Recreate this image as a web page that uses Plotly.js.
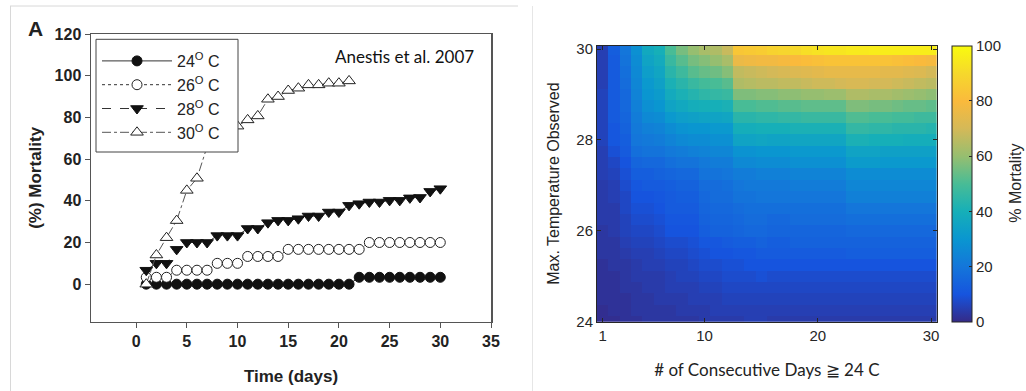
<!DOCTYPE html>
<html><head><meta charset="utf-8">
<script src="https://cdn.plot.ly/plotly-3.0.1.min.js"></script>
<style>html,body{margin:0;padding:0;background:#fff;}#chart{width:1026px;height:391px;}</style>
</head><body><div id="chart"></div>
<script>
// ---- Left panel data (Anestis et al. 2007) ----
const days = [1,2,3,4,5,6,7,8,9,10,11,12,13,14,15,16,17,18,19,20,21,22,23,24,25,26,27,28,29,30];
const days30C = [1,2,3,4,5,6,7,8,9,10,11,12,13,14,15,16,17,18,19,20,21];
const mort24C = [0,0,0,0,0,0,0,0,0,0,0,0,0,0,0,0,0,0,0,0,0,3.3,3.3,3.3,3.3,3.3,3.3,3.3,3.3,3.3];
const mort26C = [3.3,3.3,3.3,6.7,6.7,6.7,6.7,10,10,10,13.3,13.3,13.3,13.3,16.7,16.7,16.7,16.7,16.7,16.7,16.7,16.7,20,20,20,20,20,20,20,20];
const mort28C = [6.7,10,10,16.7,20,20,20,23.3,23.3,23.3,26.7,26.7,29.5,30.6,30.6,31.4,32.7,32.7,34.6,34.6,37.8,38.6,39.4,39.4,40.2,40.2,41.4,41.6,44.5,45.8];
const mort30C = [0,14,22.3,30.5,45,50.8,66,70,73,75.8,78.8,80.7,88.7,90,92.9,94,95.6,95.6,96.4,96.4,97.5];
const seriesNames = ['24<sup>O</sup> C','26<sup>O</sup> C','28<sup>O</sup> C','30<sup>O</sup> C'];
const leftXTicks = [0,5,10,15,20,25,30,35];
const leftYTicks = [0,20,40,60,80,100,120];

// ---- Right panel data (heat map) ----
const consecDays = [1,2,3,4,5,6,7,8,9,10,11,12,13,14,15,16,17,18,19,20,21,22,23,24,25,26,27,28,29,30];
const maxTemp = [24,24.25,24.5,24.75,25,25.25,25.5,25.75,26,26.25,26.5,26.75,27,27.25,27.5,27.75,28,28.25,28.5,28.75,29,29.25,29.5,29.75,30];
const mortalityGrid = [
 [1,1,2, 2,3,3, 3,3,3, 4,4,4, 4,5,5, 4,4,4,4,4,4,4, 4,4,4,4,4,4,4,4],
 [1,2,2, 3,3,3, 3,4,4, 4,5,5, 5,5,5, 5,5,5,5,5,5,5, 5,5,5,5,5,5,5,5],
 [2,2,2, 3,3,4, 4,4,5, 5,5,6, 6,6,6, 6,6,6,6,6,6,6, 6,6,6,6,6,6,6,6],
 [2,2,3, 3,4,4, 5,5,5, 6,6,7, 7,7,7, 7,7,7,7,7,7,7, 7,7,7,7,7,7,7,7],
 [2,2,3, 4,4,4, 5,6,6, 7,7,8, 8,8,9, 8,8,8,8,8,8,8, 8,8,8,8,8,8,8,8],
 [2,3,3, 4,5,5, 6,6,7, 8,8,9, 9,10,10, 10,10,10,10,10,10,10, 10,10,10,10,10,10,10,10],
 [3,3,4, 5,5,6, 7,7,8, 9,10,10, 11,11,12, 12,12,12,12,12,12,12, 13,13,13,13,13,13,13,13],
 [3,3,5, 6,6,7, 8,8,9, 11,11,12, 13,13,14, 13,13,14,14,14,14,14, 14,14,14,14,14,14,14,14],
 [3,4,6, 7,7,8, 10,10,10, 13,14,14, 15,16,16, 15,15,15,15,15,15,15, 16,16,16,16,16,16,16,16],
 [4,4,6, 8,8,9, 11,11,11, 14,15,15, 16,17,17, 16,16,17,17,17,17,17, 18,18,18,18,18,18,18,18],
 [4,4,7, 9,9,10, 12,12,12, 15,16,16, 17,18,18, 18,18,18,18,18,18,18, 20,20,20,20,20,20,20,20],
 [4,5,7, 10,10,11, 12,13,13, 16,17,17, 19,19,20, 20,20,20,20,20,20,20, 23,23,23,23,23,23,23,23],
 [4,5,8, 11,12,12, 13,14,14, 17,17,18, 20,21,21, 21,21,22,22,22,22,22, 25,25,25,25,25,25,25,25],
 [5,6,9, 13,13,14, 15,16,16, 19,19,20, 22,22,23, 23,23,24,24,24,24,24, 27,27,27,27,27,27,27,27],
 [5,7,10, 15,16,16, 18,19,19, 21,22,22, 26,26,27, 27,27,28,28,28,28,28, 32,32,32,31,31,31,31,31],
 [5,9,12, 18,19,19, 21,22,23, 24,25,25, 29,29,30, 30,30,31,31,31,31,31, 35,35,35,34,34,34,34,34],
 [6,11,13, 20,21,22, 24,26,27, 27,28,28, 35,35,36, 35,35,36,36,36,36,36, 41,41,40,40,40,39,39,39],
 [6,11,14, 21,23,24, 27,29,30, 30,31,31, 39,39,40, 40,40,41,41,41,41,41, 46,46,45,45,44,44,44,43],
 [6,12,15, 22,26,27, 31,33,34, 35,35,36, 44,44,45, 45,46,46,47,47,47,47, 51,51,50,50,49,49,48,48],
 [6,12,16, 23,28,30, 35,37,39, 40,40,41, 50,50,51, 51,52,52,53,53,53,53, 57,57,56,56,55,54,54,53],
 [6,12,16, 24,30,32, 38,41,43, 45,46,47, 57,57,58, 58,59,59,60,60,61,61, 64,64,63,63,62,61,60,59],
 [5,12,17, 25,31,34, 41,44,47, 49,50,52, 64,65,66, 66,67,67,68,69,69,70, 71,71,70,70,69,68,67,66],
 [5,12,18, 26,33,36, 44,48,52, 54,55,58, 67,68,69, 70,71,72,73,74,75,75, 75,75,75,74,74,73,72,70],
 [5,12,19, 27,35,38, 47,52,56, 58,60,63, 76,77,78, 78,79,80,81,82,83,83, 83,83,83,83,82,81,80,79],
 [5,13,20, 28,37,40, 50,56,60, 63,64,68, 84,85,86, 88,89,90,92,93,94,94, 95,95,96,96,96,96,96,96]
];
const heatXTicks = [1,10,20,30];
const heatYTicks = [24,26,28,30];
const cbarTicks = [0,20,40,60,80,100];

// ---- layout helpers (pixel -> paper) ----
const W = 1026, H = 391;
const px = v => v / W;
const py = v => 1 - v / H;

const parula = [
 [0.0,'rgb(53,42,135)'],[0.1,'rgb(22,84,222)'],[0.2,'rgb(20,118,218)'],[0.3,'rgb(10,150,208)'],
 [0.4,'rgb(22,175,184)'],[0.5,'rgb(72,188,150)'],[0.6,'rgb(150,190,112)'],[0.7,'rgb(212,185,88)'],
 [0.8,'rgb(250,186,60)'],[0.9,'rgb(246,216,44)'],[1.0,'rgb(249,251,14)']
];

const lineCol = '#333';
const traces = [
 {x: days, y: mort24C, name: seriesNames[0], type:'scatter', mode:'lines+markers', legendgroup:'a',
  line:{color:lineCol, width:1, dash:'solid'}, marker:{symbol:'circle', size:10, color:'#111', line:{color:'#111', width:1}}},
 {x: days, y: mort26C, name: seriesNames[1], type:'scatter', mode:'lines+markers', legendgroup:'b',
  line:{color:lineCol, width:1, dash:'dot'}, marker:{symbol:'circle', size:10, color:'#fff', line:{color:'#222', width:1}}},
 {x: days, y: mort28C, name: seriesNames[2], type:'scatter', mode:'lines+markers', legendgroup:'c',
  line:{color:lineCol, width:1, dash:'dash'}, marker:{symbol:'triangle-down', size:11, color:'#111', line:{color:'#111', width:1}}},
 {x: days30C, y: mort30C, name: seriesNames[3], type:'scatter', mode:'lines+markers', legendgroup:'d',
  line:{color:'#555', width:1, dash:'dashdot'}, marker:{symbol:'triangle-up', size:11, color:'#fff', line:{color:'#222', width:1}}},
 {x: consecDays, y: maxTemp, z: mortalityGrid, type:'heatmap', xaxis:'x2', yaxis:'y2',
  colorscale: parula, zmin:0, zmax:100, showlegend:false,
  colorbar:{x:px(951.7), xanchor:'left', xpad:0, y:py(183.7), yanchor:'middle', ypad:0,
   len:276, lenmode:'pixels', thickness:20, thicknessmode:'pixels',
   outlinewidth:1, outlinecolor:'#262626', tickvals:cbarTicks, ticks:'inside', ticklen:3, tickcolor:'#262626',
   tickfont:{family:'Liberation Sans, Arial, sans-serif', size:15, color:'#262626'}}}
];

const boldFont = {family:'Liberation Sans, Arial, sans-serif', size:16, color:'#222', weight:'bold'};
const layout = {
 width: W, height: H, margin:{l:0,r:0,t:0,b:0}, paper_bgcolor:'#fff', plot_bgcolor:'#fff',
 showlegend: true,
 legend:{x:px(97), y:py(44), xanchor:'left', yanchor:'top', bgcolor:'rgba(0,0,0,0)', borderwidth:0,
  font:{family:'Liberation Sans, Arial, sans-serif', size:16, color:'#222'}, itemwidth:70,
  traceorder:'grouped', tracegroupgap:0},
 xaxis:{domain:[px(91), px(491)], range:[-4.45, 35], tickvals:leftXTicks, showline:true, mirror:true,
  linecolor:'#555', linewidth:1.5, ticks:'outside', ticklen:5, tickcolor:'#555', showgrid:false, zeroline:false,
  tickfont:boldFont, anchor:'y',
  title:{text:'<b>Time (days)</b>', font:{family:'Liberation Sans, Arial, sans-serif', size:17, color:'#222'}, standoff:20}},
 yaxis:{domain:[py(321.7), py(34)], range:[-18, 120], tickvals:leftYTicks, showline:true, mirror:true,
  linecolor:'#555', linewidth:1.5, ticks:'outside', ticklen:5, tickcolor:'#555', showgrid:false, zeroline:false,
  tickfont:boldFont, anchor:'x',
  title:{text:'<b>(%) Mortality</b>', font:{family:'Liberation Sans, Arial, sans-serif', size:17, color:'#222'}, standoff:8}},
 xaxis2:{domain:[px(597), px(936.7)], range:[0.5, 30.5], tickvals:heatXTicks, anchor:'y2', showline:true, mirror:'ticks',
  linecolor:'#262626', linewidth:1, ticks:'inside', ticklen:4, tickcolor:'#262626', showgrid:false, zeroline:false,
  tickfont:{family:'Liberation Sans, Arial, sans-serif', size:15, color:'#262626'},
  title:{text:'# of Consecutive Days ≧ 24 C', font:{family:'Lato, Open Sans, sans-serif', size:17, color:'#222'}, standoff:21}},
 yaxis2:{domain:[py(321.7), py(45.5)], range:[24, 30.08], tickvals:heatYTicks, anchor:'x2', showline:true, mirror:'ticks',
  linecolor:'#262626', linewidth:1, ticks:'inside', ticklen:4, tickcolor:'#262626', showgrid:false, zeroline:false,
  tickfont:{family:'Liberation Sans, Arial, sans-serif', size:15, color:'#262626'},
  title:{text:'Max. Temperature Observed', font:{family:'Liberation Sans, Arial, sans-serif', size:16, color:'#222'}, standoff:12}},
 annotations:[
  {text:'Anestis et al. 2007', xref:'paper', yref:'paper', x:px(476), y:py(56), xanchor:'right', yanchor:'middle', showarrow:false,
   font:{family:'Lato, Open Sans, sans-serif', size:17, color:'#111'}},
  {text:'<b>A</b>', xref:'paper', yref:'paper', x:px(35), y:py(28.5), xanchor:'center', yanchor:'middle', showarrow:false,
   font:{family:'Liberation Sans, Arial, sans-serif', size:21, color:'#222'}},
  {text:'% Mortality', xref:'paper', yref:'paper', x:px(1016), y:py(183.7), xanchor:'center', yanchor:'middle', showarrow:false,
   textangle:-90, font:{family:'Liberation Sans, Arial, sans-serif', size:16, color:'#262626'}}
 ],
 shapes:[
  {type:'line', xref:'paper', yref:'paper', x0:px(10), x1:px(518), y0:py(6), y1:py(6), line:{color:'#d8d8d8', width:1}},
  {type:'line', xref:'paper', yref:'paper', x0:px(10.5), x1:px(10.5), y0:py(6), y1:0, line:{color:'#d8d8d8', width:1}},
  {type:'line', xref:'paper', yref:'paper', x0:px(532.5), x1:px(532.5), y0:py(6), y1:0, line:{color:'#e6e6e6', width:1}},
  {type:'rect', xref:'paper', yref:'paper', x0:px(96), x1:px(238), y0:py(39.3), y1:py(152), layer:'above',
   fillcolor:'#fff', line:{color:'#444', width:1}}
 ]
};

Plotly.newPlot('chart', traces, layout, {displayModeBar:false, staticPlot:true});
</script></body></html>
